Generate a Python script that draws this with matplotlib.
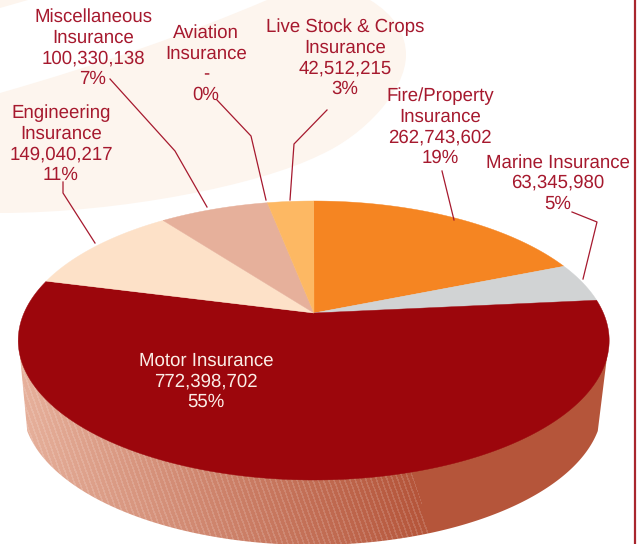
import numpy as np
import matplotlib
matplotlib.use("Agg")
import matplotlib.pyplot as plt
from matplotlib.patches import Polygon, PathPatch
from matplotlib.path import Path

plt.rcParams["text.hinting"] = "no_hinting"
plt.rcParams["text.hinting_factor"] = 8

# ---- data ----
categories = ["Fire/Property\nInsurance", "Marine Insurance", "Motor Insurance",
              "Engineering\nInsurance", "Miscellaneous\nInsurance",
              "Aviation\nInsurance", "Live Stock & Crops\nInsurance"]
values = [262743602, 63345980, 772398702, 149040217, 100330138, 0, 42512215]
value_labels = ["262,743,602", "63,345,980", "772,398,702", "149,040,217",
                "100,330,138", "-", "42,512,215"]
pct_labels = ["19%", "5%", "55%", "11%", "7%", "0%", "3%"]
colors = ["#F58522", "#D1D3D4", "#9C060C", "#FDE1C8", "#E6B09B", "#FDB863", "#FDB863"]
label_pos = [(440, 127), (558, 183), (206, 381.5), (61, 144), (93, 48), (206, 64), (345, 58)]
text_colors = ["#A6192E"] * 2 + ["#FBEDE6"] + ["#A6192E"] * 4

leaders = [
    [(442, 171), (454, 220)],
    [(572, 212), (597, 222), (583, 279)],
    [(63, 182), (63, 193), (95, 243)],
    [(110, 79), (175, 151), (207, 207)],
    [(217, 100), (251, 136), (266, 200)],
    [(327, 110), (294, 144), (290, 200)],
]

# ---- geometry of the tilted pie ----
CX, CY, RX, RY = 313.7, 340.5, 295.5, 139.5  # top face ellipse
LX, LY, LRX, LRY = 312.5, 406, 290, 139      # lower rim ellipse
APEX = (314, 313)
e = (CY - APEX[1]) / RY
k = np.sqrt((1 - e) / (1 + e))


def project(theta):
    """true pie angle (clockwise from top) -> ellipse parameter under perspective"""
    return 2 * np.arctan(k * np.tan(theta / 2))


def rim(phi):
    return CX + RX * np.sin(phi), CY - RY * np.cos(phi)


fig = plt.figure(figsize=(6.41, 5.44), dpi=100)
ax = fig.add_axes([0, 0, 1, 1])
ax.set_xlim(0, 641)
ax.set_ylim(544, 0)
ax.axis("off")

# background blob
blob_verts = [(0, 93), (150, 50), (267, 0), (370, 0),
              (395, 15), (406, 35), (406, 55),
              (406, 90), (365, 135), (320, 155),
              (260, 185), (120, 213), (0, 213), (0, 93)]
blob_codes = [Path.MOVETO, Path.CURVE3, Path.CURVE3, Path.LINETO,
              Path.CURVE4, Path.CURVE4, Path.CURVE4,
              Path.CURVE4, Path.CURVE4, Path.CURVE4,
              Path.CURVE4, Path.CURVE4, Path.CURVE4, Path.CLOSEPOLY]
ax.add_patch(PathPatch(Path(blob_verts, blob_codes), fc="#FDF5EE", ec="none", zorder=1))
ax.add_patch(Polygon([(0, 0), (28, 0), (0, 8)], fc="#FDF5EE", ec="none", zorder=1))

# right border
ax.plot([635, 635], [0, 544], color="#A8262E", lw=1.6, zorder=1, solid_capstyle="butt")

# side wall
t = np.linspace(-1.39, 1.39, 300)
lower = np.column_stack([LX + LRX * np.sin(t), LY + LRY * np.cos(t)])
side_poly = np.vstack([[(18.5, 340.5)], lower, [(609, 340.5)]])
clip = Polygon(side_poly, transform=ax.transData, fc="none", ec="none")
ax.add_patch(clip)

yy, xx = np.mgrid[0:544, 0:641] + 0.5
seam_x = 412 + (yy - 473) * (20 / 62)
f = np.clip((xx - 25) / (seam_x - 25), 0, 1)
c0 = np.array([0xE6, 0xB0, 0x9B]) / 255
c1 = np.array([0xB5, 0x55, 0x3A]) / 255
img = c0[None, None, :] * (1 - f[..., None]) + c1[None, None, :] * f[..., None]
stripe = ((xx * 0.94 - yy * 0.34) % 5.0) < 1.6
light = stripe[..., None] * 0.14
img = img * (1 - light) + light
img[xx > seam_x] = c1
im = ax.imshow(img, extent=(0, 641, 544, 0), interpolation="bilinear", aspect="auto", zorder=2)
im.set_clip_path(clip)
ax.set_xlim(0, 641)
ax.set_ylim(544, 0)

# top face wedges
total = sum(values)
edges = np.concatenate([[0], np.cumsum(values)]) / total * 2 * np.pi
for i, (a, b) in enumerate(zip(edges[:-1], edges[1:])):
    if b <= a:
        continue
    th = np.linspace(a, b, 200)
    # unwrap through the bottom of the pie, where tan(theta/2) diverges
    s = np.where(th < np.pi, project(th), project(th - 2 * np.pi) + 2 * np.pi)
    x, y = rim(s)
    pts = np.vstack([[APEX], np.column_stack([x, y])])
    ax.add_patch(Polygon(pts, closed=True, fc=colors[i], ec=colors[i], lw=0.3, zorder=3))

# leaders
for pts in leaders:
    p = np.array(pts)
    ax.plot(p[:, 0], p[:, 1], color="#A6192E", lw=0.9, zorder=5)

# labels
for cat, val, pct, pos, col in zip(categories, value_labels, pct_labels, label_pos, text_colors):
    ax.text(pos[0], pos[1], f"{cat}\n{val}\n{pct}", ha="center", va="center", color=col,
            fontsize=13.4, family="Liberation Sans", linespacing=1.2, zorder=6)

fig.savefig("out.png", dpi=100)
